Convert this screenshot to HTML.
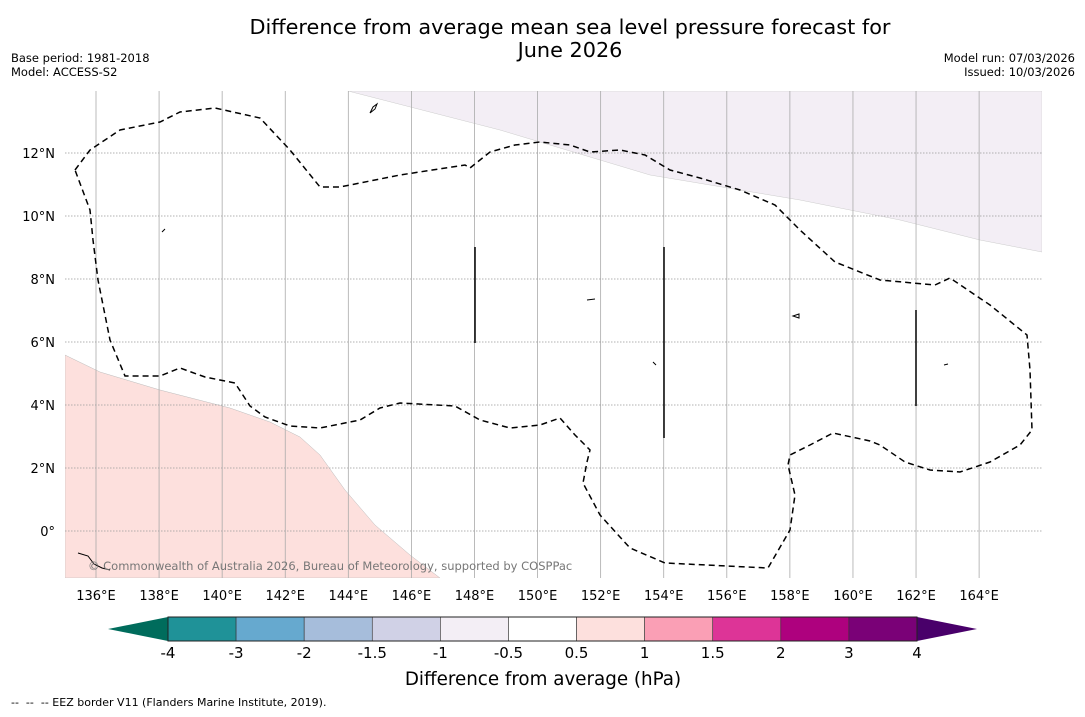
<!DOCTYPE html>
<html><head><meta charset="utf-8"><style>
body{margin:0;background:#fff;font-family:"DejaVu Sans","Liberation Sans",sans-serif;}
svg text{font-family:"DejaVu Sans","Liberation Sans",sans-serif;}
</style></head><body>
<svg id="chart" width="1085" height="713" xmlns="http://www.w3.org/2000/svg">
<text x="570" y="34" font-size="20.8" text-anchor="middle">Difference from average mean sea level pressure forecast for</text>
<text x="570" y="57" font-size="20.8" text-anchor="middle">June 2026</text>
<text x="11" y="62" font-size="11.5">Base period: 1981-2018</text>
<text x="11" y="76" font-size="11.5">Model: ACCESS-S2</text>
<text x="1075" y="62" font-size="11.5" text-anchor="end">Model run: 07/03/2026</text>
<text x="1075" y="76" font-size="11.5" text-anchor="end">Issued: 10/03/2026</text>
<defs><clipPath id="mapclip"><rect x="65" y="91" width="977" height="487"/></clipPath></defs>
<g id="map" clip-path="url(#mapclip)">
<polygon fill="#f3eef5" stroke="#ccc" stroke-width="0.5" points="348,91 1042,91 1042,252 980,240 900,220 800,200 650,175 500,130"/>
<polygon fill="#fde0dd" stroke="#bbb" stroke-width="0.5" points="65,355 100,372 160,390 230,408 270,422 300,437 320,455 345,490 375,525 410,555 440,578 65,578"/>
<g id="grid"></g>
<polyline fill="none" stroke="#000" stroke-width="1.5" stroke-dasharray="6,4" points="75,170 90,150 120,130 160,122 180,112 215,108 260,118 290,150 320,187 340,187 400,175 465,165 470,168 490,152 515,145 540,142 570,145 590,152 620,150 645,155 670,170 700,178 740,190 775,205 800,230 835,262 880,280 935,285 950,278 990,305 1027,335 1030,370 1032,430 1020,445 990,462 960,472 930,470 905,462 880,445 870,441 833,433 810,445 790,455 788,465 795,495 790,530 768,568 665,563 630,548 600,515 583,483 587,462 590,450 575,435 560,418 540,425 510,428 480,420 455,406 400,403 380,408 360,420 320,428 290,426 265,417 250,406 235,383 230,382 205,377 180,368 160,376 125,376 110,340 98,280 93,240 90,210 75,170"/>
<line x1="475" y1="247" x2="475" y2="343" stroke="#000" stroke-width="1.5"/>
<line x1="664" y1="247" x2="664" y2="438" stroke="#000" stroke-width="1.5"/>
<line x1="916" y1="310" x2="916" y2="406" stroke="#000" stroke-width="1.5"/>
<path d="M370,113 l3,-6 l4,-3 l-2,5 z" fill="none" stroke="#000"/>
<path d="M162,232 l3,-3 M587,300 l8,-1 M793,316 l6,-2 l0,4 z M944,365 l4,-1 M653,362 l3,3 M78,553 l10,3 l6,8 l8,4 l8,2" fill="none" stroke="#000" stroke-width="1"/>
<text x="88" y="570" font-size="11.5" fill="#777">© Commonwealth of Australia 2026, Bureau of Meteorology, supported by COSPPac</text>
</g>
<g id="axes"></g>
<g id="cbar"></g>
<text x="543" y="685" font-size="18.3" text-anchor="middle">Difference from average (hPa)</text>
<text x="11" y="706" font-size="11" xml:space="preserve">--  --  -- EEZ border V11 (Flanders Marine Institute, 2019).</text>
</svg>
<script>
const lonTicks=[136,138,140,142,144,146,148,150,152,154,156,158,160,162,164];
const latTicks=[0,2,4,6,8,10,12];
const cbarLabels=["-4","-3","-2","-1.5","-1","-0.5","0.5","1","1.5","2","3","4"];
const cbarColors=["#1f9298","#66a9cf","#a6bddb","#d0d1e6","#f3eef5","#ffffff","#fde0dd","#fa9fb5","#dd3497","#ae017e","#7a0177"];
const NS="http://www.w3.org/2000/svg";
const xLon=l=>96+(l-136)*31.54;
const yLat=l=>531-l*31.5;
function mk(t,a,p){const e=document.createElementNS(NS,t);for(const k in a)e.setAttribute(k,a[k]);p.appendChild(e);return e;}
const grid=document.getElementById('grid'),axes=document.getElementById('axes'),cb=document.getElementById('cbar');
lonTicks.forEach(l=>{const x=xLon(l);
 const g=mk('line',{x1:x,y1:91,x2:x,y2:578,stroke:'#aaa','stroke-width':0.8},grid);
 
 
 const t=mk('text',{x:x,y:600,'font-size':13,'text-anchor':'middle'},axes);t.textContent=l+'°E';
 
 });
latTicks.forEach(l=>{const y=yLat(l);
 const g=mk('line',{x1:65,y1:y,x2:1042,y2:y,stroke:'#999','stroke-width':0.8,'stroke-dasharray':'1.5,1.5'},grid);
 
 
 const t=mk('text',{x:55,y:y+5,'font-size':13,'text-anchor':'end'},axes);t.textContent=(l===0?'0°':l+'°N');
 
 });
const cx0=168,cw=(917-168)/cbarColors.length,cy=617,ch=24;
const lt=mk('polygon',{points:`108,${cy+ch/2} ${cx0},${cy} ${cx0},${cy+ch}`,fill:'#006c5c'},cb);


const rt=mk('polygon',{points:`977,${cy+ch/2} 917,${cy} 917,${cy+ch}`,fill:'#49006a'},cb);


cbarColors.forEach((c,i)=>{const r=mk('rect',{x:cx0+i*cw,y:cy,width:cw,height:ch,fill:c,stroke:'#333','stroke-width':0.6},cb);
 
 });
mk('rect',{x:cx0,y:cy,width:917-cx0,height:ch,fill:'none',stroke:'#222','stroke-width':1},cb);
cbarLabels.forEach((s,i)=>{const t=mk('text',{x:cx0+i*cw,y:658,'font-size':15,'text-anchor':'middle'},cb);t.textContent=s;
 
 });
</script>
</body></html>
